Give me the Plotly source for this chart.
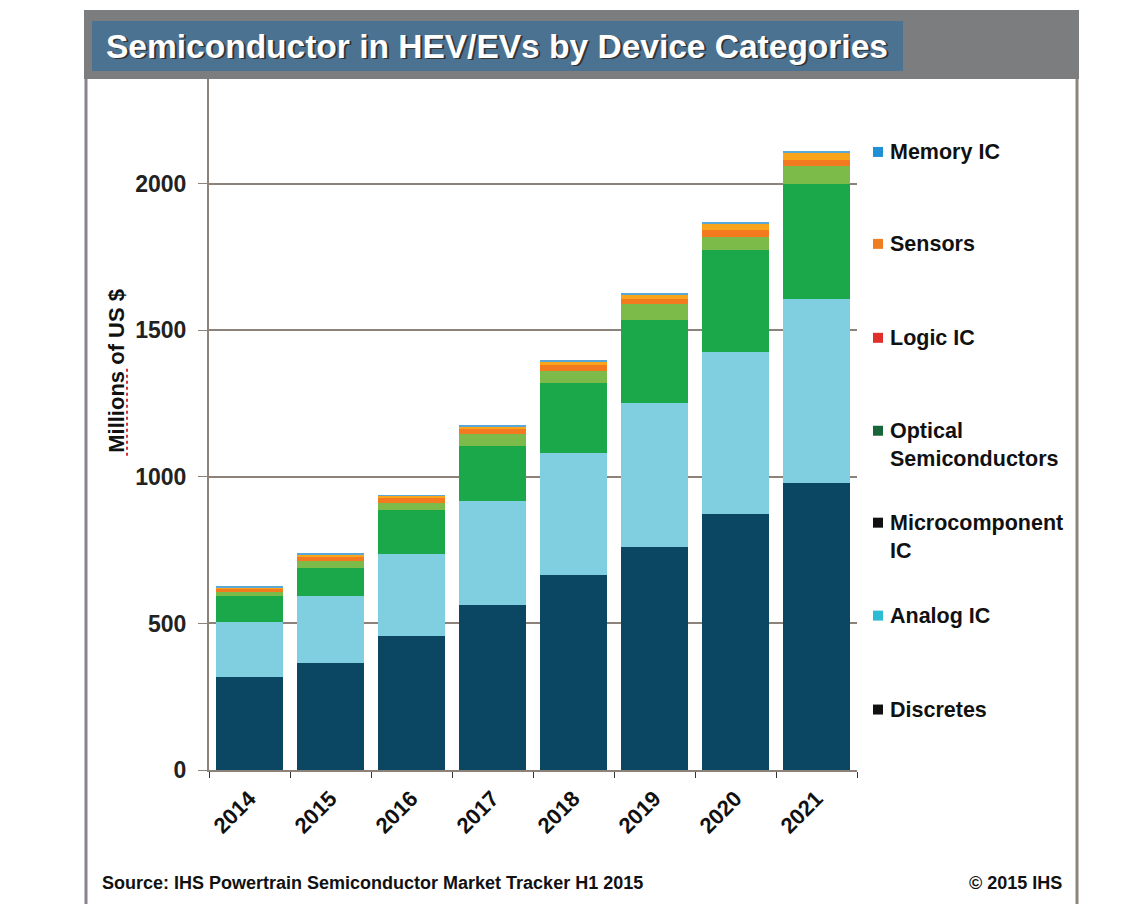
import plotly.graph_objects as go

years = ["2014", "2015", "2016", "2017", "2018", "2019", "2020", "2021"]
discretes = [317, 364, 458, 562, 666, 762, 875, 978]
analog_ic = [188, 228, 280, 355, 416, 491, 550, 630]
microcomponent_ic = [87, 98, 149, 188, 239, 284, 350, 391]
optical_semis = [15, 23, 23, 40, 39, 54, 43, 62]
logic_ic = [9, 14, 17, 18, 22, 17, 25, 21]
sensors = [8, 8, 8, 9, 12, 14, 20, 25]
memory_ic = [3, 3, 3, 3, 3, 4, 6, 6]

series = [
    ("Discretes", discretes, "#0b4762"),
    ("Analog IC", analog_ic, "#7fcfe1"),
    ("Microcomponent IC", microcomponent_ic, "#1aa84b"),
    ("Optical Semiconductors", optical_semis, "#7cba4a"),
    ("Logic IC", logic_ic, "#f47a20"),
    ("Sensors", sensors, "#f8a51c"),
    ("Memory IC", memory_ic, "#5aa8d8"),
]

# legend entries (top to bottom) as drawn in the reference
legend_items = [
    ("Memory IC", "#1f8fd6"),
    ("Sensors", "#ef7d22"),
    ("Logic IC", "#e0302c"),
    ("Optical<br>Semiconductors", "#17663a"),
    ("Microcomponent<br>IC", "#111111"),
    ("Analog IC", "#2cbcd4"),
    ("Discretes", "#111111"),
]

W, H = 1140, 904
OFF = 8  # page body margin
L, R, T, B = 209, 857, 79, 770.5
PW, PH = R - L, B - T


def px(x):
    return (x - L) / PW


def py(y):
    return (B - y) / PH


fig = go.Figure()
for name, vals, col in series:
    fig.add_trace(go.Bar(x=years, y=vals, name=name, marker=dict(color=col, line=dict(width=0)),
                         showlegend=False))

FONT = "Liberation Sans, Arial, sans-serif"
AXC = "#8c8279"

fig.update_layout(
    width=W, height=H,
    margin=dict(l=L - OFF, r=W - R + OFF, t=T - OFF, b=H - B + OFF, pad=0),
    paper_bgcolor="white", plot_bgcolor="white",
    barmode="stack", bargap=0.185,
    font=dict(family=FONT, color="#111111"),
    xaxis=dict(type="category", showline=True, linecolor=AXC, linewidth=2,
               ticks="outside", tickson="boundaries", ticklen=6, tickcolor="#333",
               tickangle=-45, tickfont=dict(size=22, family=FONT, weight="bold", color="#111"),
               ticklabelstandoff=5, showgrid=False),
    yaxis=dict(range=[0, (B - T) / 0.2933], tickvals=[0, 500, 1000, 1500, 2000],
               showline=True, linecolor=AXC, linewidth=2, ticks="outside", ticklen=9,
               tickcolor=AXC, showgrid=True, gridcolor=AXC, gridwidth=2, zeroline=False,
               tickfont=dict(size=23, family=FONT, weight="bold", color="#222"),
               ticklabelstandoff=7),
)

shapes = []
# header grey band
shapes.append(dict(type="rect", xref="paper", yref="paper", x0=px(84), x1=px(1079), y0=py(79), y1=py(10),
                   fillcolor="#7b7d7e", line=dict(width=0), layer="above"))
# title box
shapes.append(dict(type="rect", xref="paper", yref="paper", x0=px(92), x1=px(903), y0=py(71), y1=py(21),
                   fillcolor="#4b7290", line=dict(width=0), layer="above"))
# panel borders
shapes.append(dict(type="line", xref="paper", yref="paper", x0=px(86), x1=px(86), y0=py(912), y1=py(79),
                   line=dict(color="#8a8290", width=3)))
shapes.append(dict(type="line", xref="paper", yref="paper", x0=px(1077), x1=px(1077), y0=py(912), y1=py(79),
                   line=dict(color="#8c857e", width=3)))
# legend swatches
legend_y = [152, 244, 338, 431, 523, 616, 710]
for (lab, col), yy in zip(legend_items, legend_y):
    shapes.append(dict(type="rect", xref="paper", yref="paper", x0=px(873), x1=px(883),
                       y0=py(yy + 5), y1=py(yy - 5), fillcolor=col, line=dict(width=0)))
# spell-check squiggle under axis title
shapes.append(dict(type="line", xref="paper", yref="paper", x0=px(127), x1=px(127), y0=py(456), y1=py(368),
                   line=dict(color="#d83030", width=2, dash="dot")))
fig.update_layout(shapes=shapes)

ann = []
TITLE = "Semiconductor in HEV/EVs by Device Categories"
ann.append(dict(text=TITLE, xref="paper", yref="paper",
                x=px(105.5), y=py(47.5), xanchor="left", yanchor="middle", showarrow=False,
                font=dict(size=33.5, family=FONT, color="#333", weight="bold")))
ann.append(dict(text=TITLE, xref="paper", yref="paper",
                x=px(104), y=py(46), xanchor="left", yanchor="middle", showarrow=False,
                font=dict(size=33.5, family=FONT, color="white", weight="bold")))
for (lab, col), yy in zip(legend_items, legend_y):
    ann.append(dict(text=lab, xref="paper", yref="paper", x=px(888), y=py(yy - 14),
                    xanchor="left", yanchor="top", align="left", showarrow=False,
                    font=dict(size=21.5, family=FONT, color="#111", weight="bold")))
ann.append(dict(text="Millions of US $", xref="paper", yref="paper", x=px(117), y=py(371),
                xanchor="center", yanchor="middle", textangle=-90, showarrow=False,
                font=dict(size=22, family=FONT, color="#111", weight="bold")))
ann.append(dict(text="Source: IHS Powertrain Semiconductor Market Tracker H1 2015", xref="paper", yref="paper",
                x=px(100), y=py(884), xanchor="left", yanchor="middle", showarrow=False,
                font=dict(size=18, family=FONT, color="#111", weight="bold")))
ann.append(dict(text="© 2015 IHS", xref="paper", yref="paper",
                x=px(1064), y=py(884), xanchor="right", yanchor="middle", showarrow=False,
                font=dict(size=18, family=FONT, color="#111", weight="bold")))
fig.update_layout(annotations=ann)

fig.write_html("out.html")
